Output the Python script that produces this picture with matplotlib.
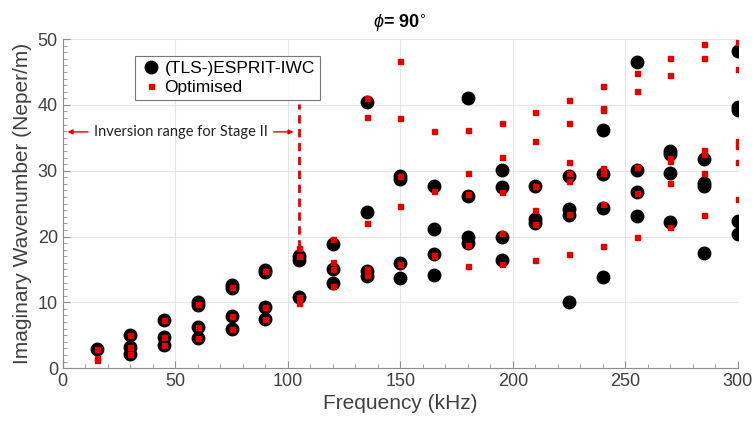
import matplotlib
matplotlib.use('Agg')
import matplotlib.pyplot as plt
from matplotlib.ticker import MultipleLocator

plt.rcParams['font.family'] = ['Liberation Sans', 'DejaVu Sans']
plt.rcParams['mathtext.fontset'] = 'custom'
plt.rcParams['mathtext.it'] = 'Liberation Sans:italic'

# measured wavenumbers per frequency (kHz)
esprit = {
    15: [2.9],
    30: [5.1, 3.2, 2.2],
    45: [7.3, 4.8, 3.5],
    60: [10.0, 9.6, 6.3, 4.6],
    75: [12.6, 12.1, 7.9, 5.9],
    90: [14.9, 14.6, 9.3, 7.4],
    105: [17.0, 16.4, 10.8],
    120: [18.8, 15.1, 12.9],
    135: [40.4, 23.7, 14.8, 14.0],
    150: [29.2, 28.7, 15.9, 13.7],
    165: [27.7, 21.1, 17.3, 14.2],
    180: [41.0, 26.2, 20.0, 19.0],
    195: [30.1, 27.5, 20.0, 16.4],
    210: [27.6, 22.7, 22.0],
    225: [29.2, 24.2, 23.3, 10.1],
    240: [36.2, 29.5, 24.4, 13.9],
    255: [46.5, 30.1, 26.7, 23.1],
    270: [33.0, 32.5, 29.7, 22.2],
    285: [31.8, 28.2, 27.7, 17.5],
    300: [48.2, 39.7, 39.2, 22.3, 20.4],
}
optimised = {
    15: [2.9, 1.6, 1.2],
    30: [5.1, 3.2, 2.2],
    45: [7.3, 4.8, 3.5],
    60: [9.8, 6.3, 4.6],
    75: [12.4, 7.9, 5.9],
    90: [14.8, 9.3, 7.4],
    105: [18.3, 17.0, 10.8, 9.9],
    120: [19.6, 16.2, 15.1, 12.5],
    135: [41.0, 38.2, 22.1, 15.1, 14.2],
    150: [46.6, 38.0, 29.2, 24.6, 15.8],
    165: [36.1, 26.9, 17.2, 17.0],
    180: [36.2, 29.6, 26.4, 18.7, 15.5],
    195: [37.3, 32.1, 26.7, 20.6, 15.8],
    210: [38.9, 34.5, 27.6, 24.0, 21.9, 16.4],
    225: [40.7, 37.2, 31.3, 29.6, 28.4, 23.4, 17.3],
    240: [42.8, 39.6, 39.2, 30.4, 29.6, 25.0, 18.5],
    255: [44.9, 42.1, 30.6, 26.6, 19.9],
    270: [47.1, 44.6, 31.9, 31.4, 28.2, 21.4],
    285: [49.3, 47.1, 33.2, 32.5, 29.7, 23.3],
    300: [49.5, 45.5, 34.5, 33.8, 31.3, 25.7],
}

stage_limit = 105
stage_range = [18.3, 40.2]

ex = [f for f in esprit for v in esprit[f]]
ey = [v for f in esprit for v in esprit[f]]
ox = [f for f in optimised for v in optimised[f]]
oy = [v for f in optimised for v in optimised[f]]

fig = plt.figure(figsize=(7.56, 4.30), dpi=100)
ax = fig.add_axes([0.083, 0.144, 0.893, 0.765])

ax.plot(ex, ey, 'o', color='black', markersize=9, linestyle='none', label='(TLS-)ESPRIT-IWC')
ax.plot(ox, oy, 's', color='#e60000', markersize=3.6, linestyle='none', label='Optimised')

ax.plot([stage_limit, stage_limit], stage_range, color='#e60000', linestyle=(0, (3, 2)), linewidth=2)

ax.annotate('', xy=(0.9, 35.9), xytext=(12.5, 35.9),
            arrowprops=dict(arrowstyle='-|>', color='#e60000', lw=1.0, mutation_scale=7))
ax.annotate('', xy=(103.8, 35.9), xytext=(92.5, 35.9),
            arrowprops=dict(arrowstyle='-|>', color='#e60000', lw=1.0, mutation_scale=7))
ax.text(52.4, 35.9, 'Inversion range for Stage II', ha='center', va='center',
        fontsize=10.5, family='Lato', color='#222222')

ax.set_xlim(0, 300)
ax.set_ylim(0, 50)
ax.xaxis.set_major_locator(MultipleLocator(50))
ax.xaxis.set_minor_locator(MultipleLocator(10))
ax.yaxis.set_major_locator(MultipleLocator(10))
ax.yaxis.set_minor_locator(MultipleLocator(1))
ax.grid(True, which='major', color='#e5e5e5', linewidth=0.8)
ax.set_axisbelow(True)
for s in ['top', 'right']:
    ax.spines[s].set_visible(False)
for s in ['left', 'bottom']:
    ax.spines[s].set_color('#8c8c8c')
ax.tick_params(which='both', colors='#8c8c8c', labelcolor='#404040', labelsize=13, direction='in')
ax.tick_params(which='major', length=5)
ax.tick_params(which='minor', length=3)

ax.set_xlabel('Frequency (kHz)', fontsize=15, color='#404040', labelpad=3)
ax.set_ylabel('Imaginary Wavenumber (Neper/m)', fontsize=15, color='#404040', labelpad=4)
ax.set_title(r'$\phi$= 90$^{\circ}$', fontsize=13, fontweight='bold', pad=8)

leg = ax.legend(loc='upper left', bbox_to_anchor=(0.094, 0.975), fontsize=12.5, frameon=True,
                fancybox=False, edgecolor='#555555', handletextpad=0.2, borderpad=0.3,
                labelspacing=0.2, handlelength=1.2, markerscale=1.0)
leg.get_frame().set_linewidth(0.8)

fig.savefig('out.png', dpi=100)
